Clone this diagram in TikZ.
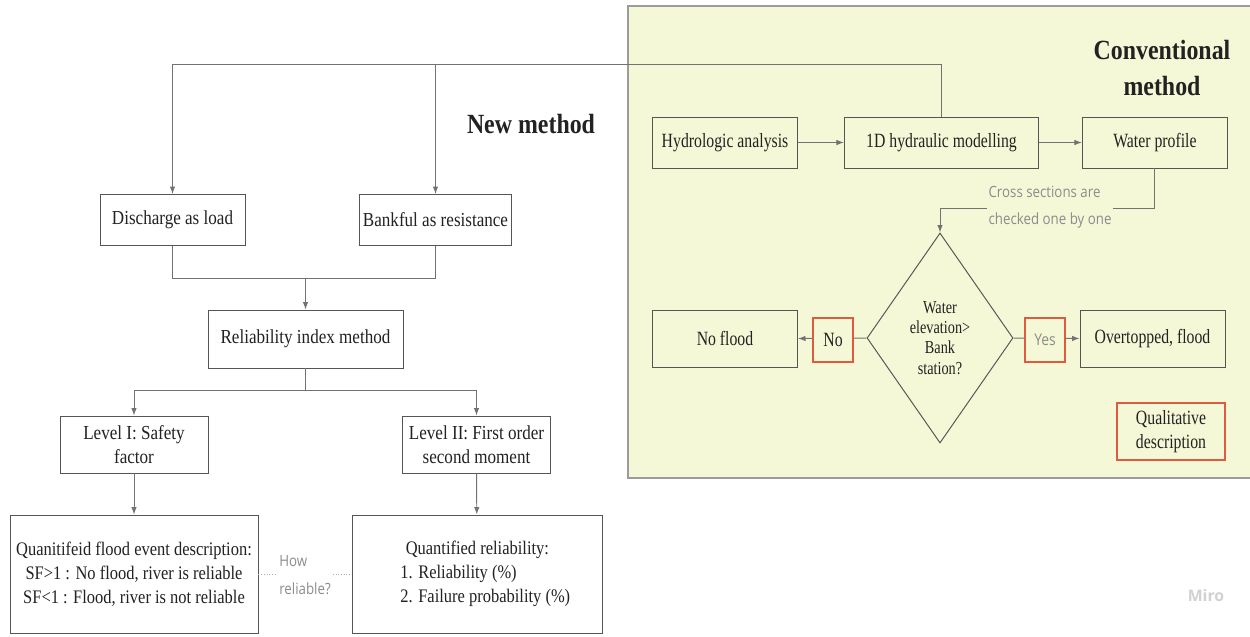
\documentclass[tikz,border=0pt]{standalone}
\usepackage{fontspec}
\setmainfont[FakeStretch=0.86]{Liberation Serif}
\newfontfamily\panelfont[FakeStretch=0.78]{Liberation Serif}
\newfontfamily\notefont[FakeStretch=0.86]{Open Sans}
\newfontfamily\markfont{Open Sans}
\usetikzlibrary{arrows.meta,positioning,shapes.geometric,calc}
\definecolor{boxgray}{HTML}{555555}
\definecolor{linegray}{HTML}{727272}
\definecolor{notegray}{HTML}{8C8C8C}
\definecolor{inkgray}{HTML}{222222}
\definecolor{convfill}{HTML}{F4F8D6}
\definecolor{convborder}{HTML}{9C9C9C}
\definecolor{tagred}{HTML}{DE5B3F}
\tikzset{
  stepbox/.style={
    draw=boxgray,
    line width=0.55pt,
    align=center,
    text=inkgray,
    minimum width=2.9cm,
    minimum height=1.02cm,
    inner sep=2pt,
    font=\fontsize{11.3}{14}\selectfont
  },
  panelbox/.style={
    stepbox,
    font=\panelfont\fontsize{11.5}{14}\selectfont
  },
  resultbox/.style={
    stepbox,
    minimum width=4.96cm,
    minimum height=2.36cm,
    font=\fontsize{10.9}{13.6}\selectfont
  },
  checkbox/.style={
    draw=boxgray,
    line width=0.55pt,
    diamond,
    aspect=0.7,
    inner sep=0pt,
    align=center,
    text=inkgray,
    minimum width=2.92cm,
    minimum height=4.2cm,
    font=\panelfont\fontsize{10.4}{11.5}\selectfont
  },
  tagbox/.style={
    draw=tagred,
    line width=0.75pt,
    fill=convfill,
    minimum width=0.8cm,
    minimum height=0.88cm,
    inner sep=1pt,
    font=\panelfont\fontsize{11.5}{14}\selectfont
  },
  note/.style={
    text=notegray,
    align=left,
    inner sep=1pt,
    font=\notefont\fontsize{8.8}{15.4}\selectfont
  },
  heading/.style={
    align=center,
    text=inkgray,
    font=\bfseries\fontsize{15.8}{20}\selectfont
  },
  flowarrow/.style={
    -{Latex[length=1.5mm,width=1.1mm]},
    line width=0.55pt,
    draw=linegray
  },
  link/.style={
    line width=0.55pt,
    draw=linegray
  }
}
\begin{document}
\begin{tikzpicture}[node distance=0.9cm and 0.9cm]
    \useasboundingbox (0,0) rectangle (25,-12.72);
    \fill[white] (0,0) rectangle (25,-12.72);
    \draw[draw=convborder, fill=convfill, line width=0.6pt] (12.56,-0.12) rectangle (25.3,-9.56);
    \node[heading] (newhead) at (10.62,-2.48) {New method};
    \node[heading] (convhead) at (23.24,-1.36) {Conventional\\method};
    \node[stepbox] (discharge) at (3.45,-4.4) {Discharge as load};
    \node[stepbox] (bankful) at (8.71,-4.4) {Bankful as resistance};
    \node[stepbox, minimum width=3.9cm, minimum height=1.16cm] (reli) at (6.11,-6.78) {Reliability index method};
    \node[stepbox, minimum width=2.96cm, minimum height=1.14cm] (lvlone) at (2.68,-8.89) {Level I: Safety\\factor};
    \node[stepbox, minimum width=2.96cm, minimum height=1.14cm] (lvltwo) at (9.53,-8.89) {Level II: First order\\second moment};
    \node[resultbox] (sfdesc) at (2.68,-11.48) {Quanitifeid flood event description:\\SF>1 : No flood, river is reliable\\SF<1 : Flood, river is not reliable};
    \node[resultbox, minimum width=5cm, align=left] (qrel) at (9.54,-11.48) {\hspace*{12.5pt}Quantified reliability:\\\hspace*{9.5pt}1. Reliability (\%)\\\hspace*{9.5pt}2. Failure probability (\%)};
    \node[note, font=\notefont\fontsize{8.8}{16}\selectfont] (howrel) at (6.1,-11.5) {How\\reliable?};
    \node[panelbox] (hydro) at (14.5,-2.85) {Hydrologic analysis};
    \node[panelbox, minimum width=3.88cm, right=0.92cm of hydro] (hydmod) {1D hydraulic modelling};
    \node[panelbox, right=0.86cm of hydmod] (profile) {Water profile};
    \node[checkbox] (check) at (18.8,-6.76) {Water\\elevation>\\Bank\\station?};
    \node[panelbox, minimum height=1.14cm] (noflood) at (14.5,-6.77) {No flood};
    \node[panelbox, minimum height=1.14cm] (overtop) at (23.05,-6.77) {Overtopped, flood};
    \node[panelbox, draw=tagred, line width=0.75pt, minimum width=2.16cm, minimum height=1.14cm] (qual) at (23.42,-8.63) {Qualitative\\description};
    \node[text=black!18, font=\markfont\bfseries\fontsize{9}{11}\selectfont] (miro) at (24.12,-11.92) {Miro};
    \coordinate (topline) at (0,-1.28);
    \coordinate (merge) at (0,-5.56);
    \coordinate (split) at (0,-7.8);
    \coordinate (crossing) at (0,-4.16);
    \draw[flowarrow] (hydmod.north) |- (topline -| discharge) -- (discharge.north);
    \draw[flowarrow] (topline -| bankful) -- (bankful.north);
    \draw[link] (discharge.south) |- (merge -| bankful) -- (bankful.south);
    \draw[flowarrow] (merge -| reli) -- (reli.north);
    \draw[link] (reli.south) -- (split -| reli);
    \draw[flowarrow] (split -| reli) -| (lvlone.north);
    \draw[flowarrow] (split -| reli) -| (lvltwo.north);
    \draw[flowarrow] (lvlone) -- (sfdesc);
    \draw[flowarrow] (lvltwo) -- (qrel);
    \draw[link, densely dotted, draw=notegray!70] (sfdesc.east) -- (howrel.west |- sfdesc.east);
    \draw[link, densely dotted, draw=notegray!70] (howrel.east |- qrel.west) -- (qrel.west);
    \draw[flowarrow] (hydro) -- (hydmod);
    \draw[flowarrow] (hydmod) -- (profile);
    \draw[flowarrow] (profile.south) |- (crossing -| check) -- (check.north);
    \node[note, fill=convfill] (crossnote) at (21.0,-4.14) {Cross sections are\\checked one by one};
    \draw[flowarrow] (check.west) -- (noflood.east);
    \draw[flowarrow] (check.east) -- (overtop.west);
    \node[tagbox, text=inkgray] (notag) at (16.66,-6.8) {No};
    \node[tagbox, text=notegray, font=\notefont\fontsize{9.2}{12}\selectfont] (yestag) at (20.9,-6.8) {Yes};
  \end{tikzpicture}
\end{document}
